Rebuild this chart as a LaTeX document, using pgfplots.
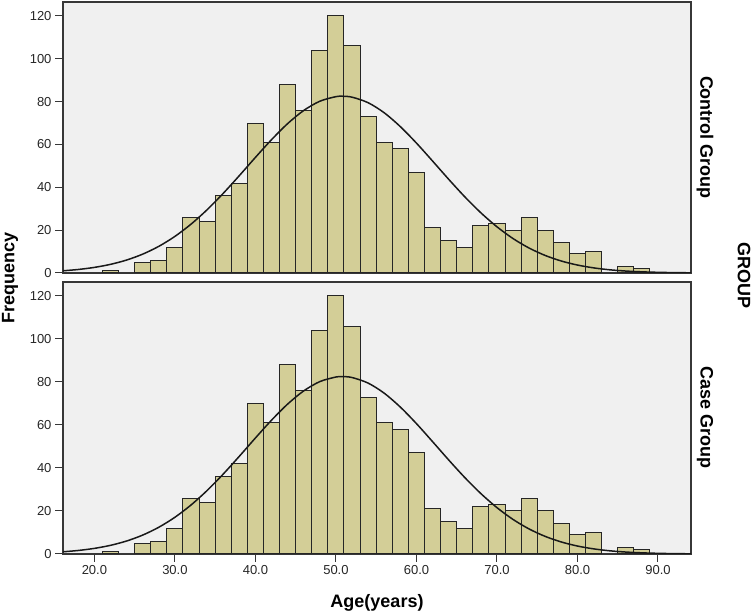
\documentclass[border=0pt]{standalone}
\usepackage{fontspec}
\setmainfont{Liberation Sans}
\usepackage{pgfplots}
\pgfplotsset{compat=1.18}
\definecolor{barfill}{RGB}{211,206,151}
\definecolor{bgc}{RGB}{240,240,240}
\definecolor{framec}{RGB}{55,55,55}
\pgfplotstableread{
x y
22 1
26 5
28 6
30 12
32 26
34 24
36 36
38 42
40 70
42 61
44 88
46 76
48 104
50 120
52 106
54 73
56 61
58 58
60 47
62 21
64 15
66 12
68 22
70 23
72 20
74 26
76 20
78 14
80 9
82 10
86 3
88 2
}\agedata
\pgfplotstableread{
x y
16.1 1.03
18 1.64
20 2.61
22 4.03
24 6.04
26 8.80
28 12.44
30 17.08
32 22.79
34 29.53
36 37.17
38 45.44
40 53.96
42 62.23
44 69.72
46 75.86
48 80.18
50 82.31
50.8 82.5
52 82.07
54 79.48
56 74.77
58 68.31
60 60.63
62 52.26
64 43.75
66 35.57
68 28.10
70 21.56
72 16.06
74 11.62
76 8.17
78 5.58
80 3.70
82 2.39
84 1.49
86 0.91
88 0.54
90 0.31
92 0.17
94.1 0.09
}\normcurve
\begin{document}
\begin{tikzpicture}[x=1bp,y=1bp]
\useasboundingbox (0,0) rectangle (753,614);
\pgfplotsset{
 panel/.style={
  scale only axis, width=628bp, anchor=south west,
  xmin=16.1, xmax=94.1, ymin=0, ymax=126.5,
  axis background/.style={fill=bgc},
  axis line style={draw=framec, line width=1.2bp},
  ytick={0,20,...,120},
  tick align=outside, major tick length=8bp,
  tick style={draw=framec, line width=1bp},
  xtick pos=bottom, ytick pos=left,
  minor tick num=0,
  tick label style={font=\fontsize{13bp}{15bp}\selectfont, text=black!85},
  /pgf/number format/assume math mode=true,
 },
 bars/.style={ybar, bar width=2, bar shift=0pt, fill=barfill, draw=black!85, line width=1bp},
 curve/.style={black!90, line width=1.5bp, smooth, no markers},
}
\begin{axis}[panel, at={(63bp,341bp)}, height=271bp, xtick=\empty]
\addplot[bars] table[x=x,y=y] {\agedata};
\addplot[curve] table[x=x,y=y] {\normcurve};
\end{axis}
\begin{axis}[panel, at={(63bp,60bp)}, height=272bp, xtick={20,30,...,90},
  xticklabel style={/pgf/number format/.cd, fixed, fixed zerofill, precision=1}]
\addplot[bars] table[x=x,y=y] {\agedata};
\addplot[curve] table[x=x,y=y] {\normcurve};
\end{axis}
\node[rotate=90, font=\bfseries\fontsize{18bp}{20bp}\selectfont] at (10,336) {Frequency};
\node[font=\bfseries\fontsize{18bp}{20bp}\selectfont] at (377,11) {Age(years)};
\node[rotate=-90, font=\bfseries\fontsize{18bp}{20bp}\selectfont] at (705,476.5) {Control Group};
\node[rotate=-90, font=\bfseries\fontsize{18bp}{20bp}\selectfont] at (705,196) {Case Group};
\node[rotate=-90, font=\bfseries\fontsize{18bp}{20bp}\selectfont] at (744,338) {GROUP};
\end{tikzpicture}
\end{document}
